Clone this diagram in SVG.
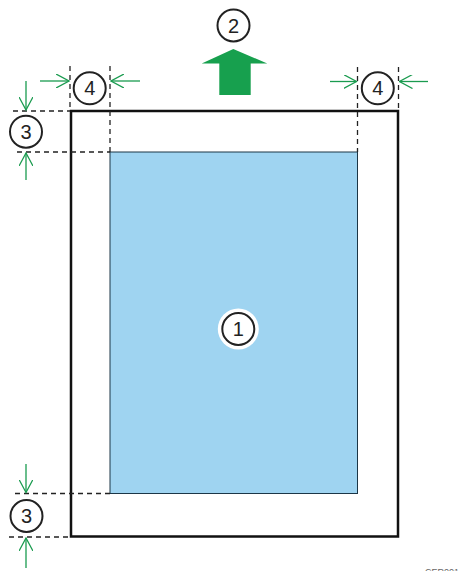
<svg xmlns="http://www.w3.org/2000/svg" width="465" height="571" viewBox="0 0 465 571">
<defs>
<style>
.dash{stroke:#222;stroke-width:1.3;stroke-dasharray:5 4;fill:none}
.arr{stroke:#1a9b4f;stroke-width:1.3;fill:none}
.circ{fill:#fff;stroke:#222;stroke-width:2}
.num{font-family:"Liberation Sans",Arial,sans-serif;font-size:20px;fill:#222;text-anchor:middle}
</style>
<marker id="ah" viewBox="0 0 14 14" refX="13" refY="7" markerWidth="14" markerHeight="14" markerUnits="userSpaceOnUse" orient="auto">
<path d="M0,0 L13,7 L0,14" fill="none" stroke="#1a9b4f" stroke-width="1.3"/>
</marker>
</defs>
<rect width="465" height="571" fill="#fff"/>
<g id="paper">
<rect x="71" y="111" width="327" height="425.5" fill="#fff" stroke="#111" stroke-width="2.5"/>
</g>
<g id="printable-area">
<rect x="110" y="152" width="247.5" height="341.5" fill="#9fd4f1" stroke="#1c3646" stroke-width="1"/>
</g>
<g id="connectors">
<line class="dash" x1="13" y1="111" x2="70" y2="111"/>
<line class="dash" x1="17" y1="152" x2="110" y2="152"/>
<line class="dash" x1="15" y1="493.5" x2="110" y2="493.5"/>
<line class="dash" x1="9" y1="537" x2="70" y2="537"/>
<line class="dash" x1="70" y1="66" x2="70" y2="111"/>
<line class="dash" x1="110" y1="66" x2="110" y2="152"/>
<line class="dash" x1="357.5" y1="67" x2="357.5" y2="152"/>
<line class="dash" x1="398.5" y1="67" x2="398.5" y2="111"/>
<line class="arr" x1="40" y1="81" x2="69" y2="81" marker-end="url(#ah)"/>
<line class="arr" x1="140" y1="81" x2="111" y2="81" marker-end="url(#ah)"/>
<line class="arr" x1="330" y1="81.5" x2="356.5" y2="81.5" marker-end="url(#ah)"/>
<line class="arr" x1="428" y1="81.5" x2="399.5" y2="81.5" marker-end="url(#ah)"/>
<line class="arr" x1="26" y1="81" x2="26" y2="110" marker-end="url(#ah)"/>
<line class="arr" x1="26" y1="180" x2="26" y2="153" marker-end="url(#ah)"/>
<line class="arr" x1="26" y1="464" x2="26" y2="492.5" marker-end="url(#ah)"/>
<line class="arr" x1="26" y1="568" x2="26" y2="538" marker-end="url(#ah)"/>
</g>
<g id="feed-arrow">
<polygon points="233.3,49 267.3,63.5 250.7,63.5 250.7,95 219.3,95 219.3,63.5 201.7,63.5" fill="#17a04e"/>
</g>
<g id="label-1">
<circle cx="238.3" cy="329" r="20.5" fill="#fff"/>
<circle class="circ" cx="238.3" cy="329" r="16"/>
<text class="num" x="238.3" y="336">1</text>
</g>
<g id="label-2">
<circle class="circ" cx="233.5" cy="25.5" r="16"/>
<text class="num" x="233.5" y="32.5">2</text>
</g>
<g id="label-3-top">
<circle class="circ" cx="26" cy="131.7" r="16"/>
<text class="num" x="26" y="138.7">3</text>
</g>
<g id="label-3-bottom">
<circle class="circ" cx="26.5" cy="516" r="16"/>
<text class="num" x="26.5" y="523">3</text>
</g>
<g id="label-4-left">
<circle class="circ" cx="89.7" cy="88.3" r="16"/>
<text class="num" x="89.7" y="95.3">4</text>
</g>
<g id="label-4-right">
<circle class="circ" cx="377.8" cy="88.3" r="16"/>
<text class="num" x="377.8" y="95.3">4</text>
</g>
<text x="425" y="575" font-family="Liberation Sans,Arial,sans-serif" font-size="9" fill="#666">CER001</text>
</svg>
